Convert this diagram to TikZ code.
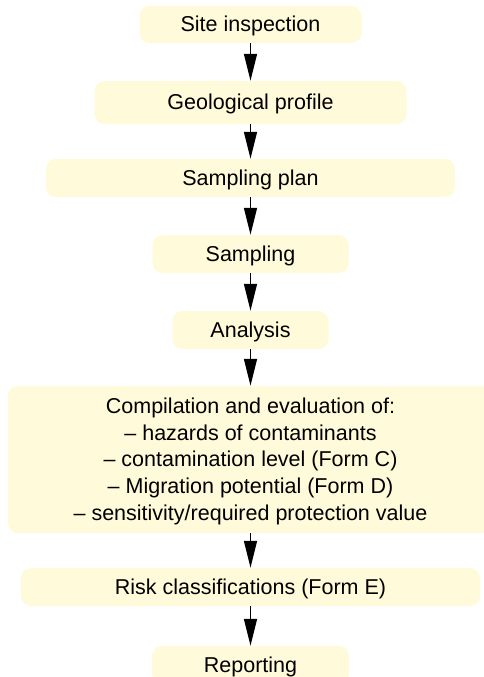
\documentclass[tikz,border=0pt]{standalone}
\usepackage{fontspec}
\setmainfont{Liberation Sans}
\usetikzlibrary{arrows.meta}
\definecolor{boxfill}{RGB}{255,250,217}
\begin{document}
\begin{tikzpicture}[x=1pt,y=-1pt,
  stage/.style={fill=boxfill,rounded corners=10pt,align=center,inner sep=0pt,
    text depth=1pt,font=\fontsize{21.5}{26.7}\selectfont},
  flow/.style={line width=1.5pt,-{Triangle[length=27pt,width=13pt]}}]
  \useasboundingbox (0,0) rectangle (484,677);
  \node[stage,minimum width=222pt,minimum height=37pt] (site) at (250.5,24.5) {Site inspection};
  \node[stage,minimum width=312pt,minimum height=43pt] (geo) at (250.5,102.5) {Geological profile};
  \node[stage,minimum width=409pt,minimum height=38pt] (plan) at (250.5,178) {Sampling plan};
  \node[stage,minimum width=196pt,minimum height=38pt] (sampling) at (250.5,254) {Sampling};
  \node[stage,minimum width=156pt,minimum height=38pt] (analysis) at (250.5,330) {Analysis};
  \node[stage,minimum width=485pt,minimum height=147pt] (compile) at (250.5,459.5)
    {Compilation and evaluation of:\\
     -- hazards of contaminants\\
     -- contamination level (Form C)\\
     -- Migration potential (Form D)\\
     -- sensitivity/required protection value};
  \node[stage,minimum width=459pt,minimum height=38pt] (risk) at (250.5,587) {Risk classifications (Form E)};
  \node[stage,minimum width=197pt,minimum height=38pt] (report) at (250.5,665) {Reporting};
  \foreach \a/\b in {site/geo,geo/plan,plan/sampling,sampling/analysis,
    analysis/compile,compile/risk,risk/report}
    \draw[flow] (\a) -- (\b);
\end{tikzpicture}
\end{document}
